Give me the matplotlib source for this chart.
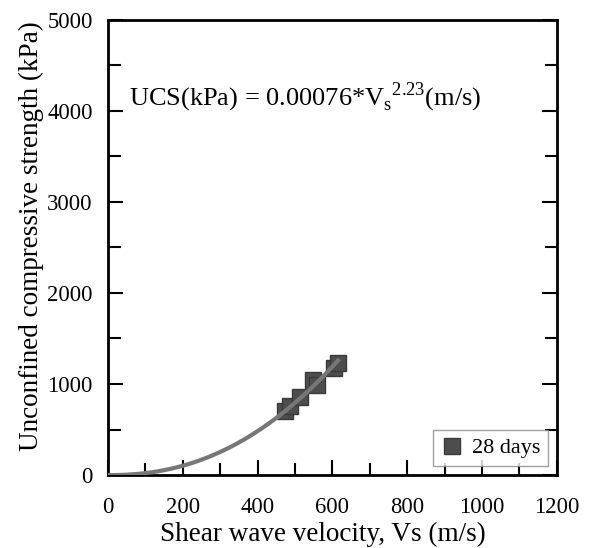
import numpy as np
import matplotlib
matplotlib.use('Agg')
import matplotlib.pyplot as plt
from matplotlib.ticker import MultipleLocator

plt.rcParams['font.family'] = ['Liberation Serif', 'DejaVu Serif']
plt.rcParams['mathtext.fontset'] = 'custom'
plt.rcParams['mathtext.rm'] = 'Liberation Serif'

# measured points, 28 days
vs = [473, 487, 513, 548, 560, 604, 615]
ucs = [703, 758, 857, 1044, 990, 1176, 1231]

# fit UCS = a * Vs^b
a = 0.00076
b = 2.23
v_end = 615

fig = plt.figure(figsize=(5.93, 5.48), dpi=100)
ax = fig.add_axes([0.182, 0.133, 0.757, 0.831])

vfit = np.linspace(0, v_end, 200)
ax.plot(vfit, a * vfit**b, color='#777777', lw=3, zorder=3)
ax.plot(vs, ucs, 's', ms=11, color='#4d4d4d', mec='#3a3a3a', label='28 days', zorder=2)

ax.set_xlim(0, 1200)
ax.set_ylim(0, 5000)
ax.xaxis.set_major_locator(MultipleLocator(200))
ax.xaxis.set_minor_locator(MultipleLocator(100))
ax.yaxis.set_major_locator(MultipleLocator(1000))
ax.yaxis.set_minor_locator(MultipleLocator(500))
ax.tick_params(which='both', direction='in', top=False, right=True, width=1.5,
               labelsize=16.3)
ax.tick_params(axis='x', which='both', pad=16)
ax.tick_params(axis='y', which='both', pad=11)
ax.tick_params(which='major', length=11)
ax.tick_params(which='minor', length=9)
for s in ax.spines.values():
    s.set_linewidth(2)

ax.set_xlabel('Shear wave velocity, Vs (m/s)', fontsize=19.5)
ax.xaxis.set_label_coords(0.478, -0.102)
ax.set_ylabel('Unconfined compressive strength (kPa)', fontsize=19.5)
ax.yaxis.set_label_coords(-0.142, 0.525)

ax.text(55, 4150, r'UCS(kPa) = 0.00076*V$_\mathregular{s}$$^\mathregular{2.23}$(m/s)',
        fontsize=19, va='center')

leg = ax.legend(loc='lower right', fontsize=16, frameon=True, fancybox=False,
                edgecolor='#888888', handletextpad=0.4, handlelength=1.0,
                borderaxespad=0.4, borderpad=0.35, markerscale=1.1)
leg.get_frame().set_linewidth(1)

fig.savefig('out.png', dpi=100)
